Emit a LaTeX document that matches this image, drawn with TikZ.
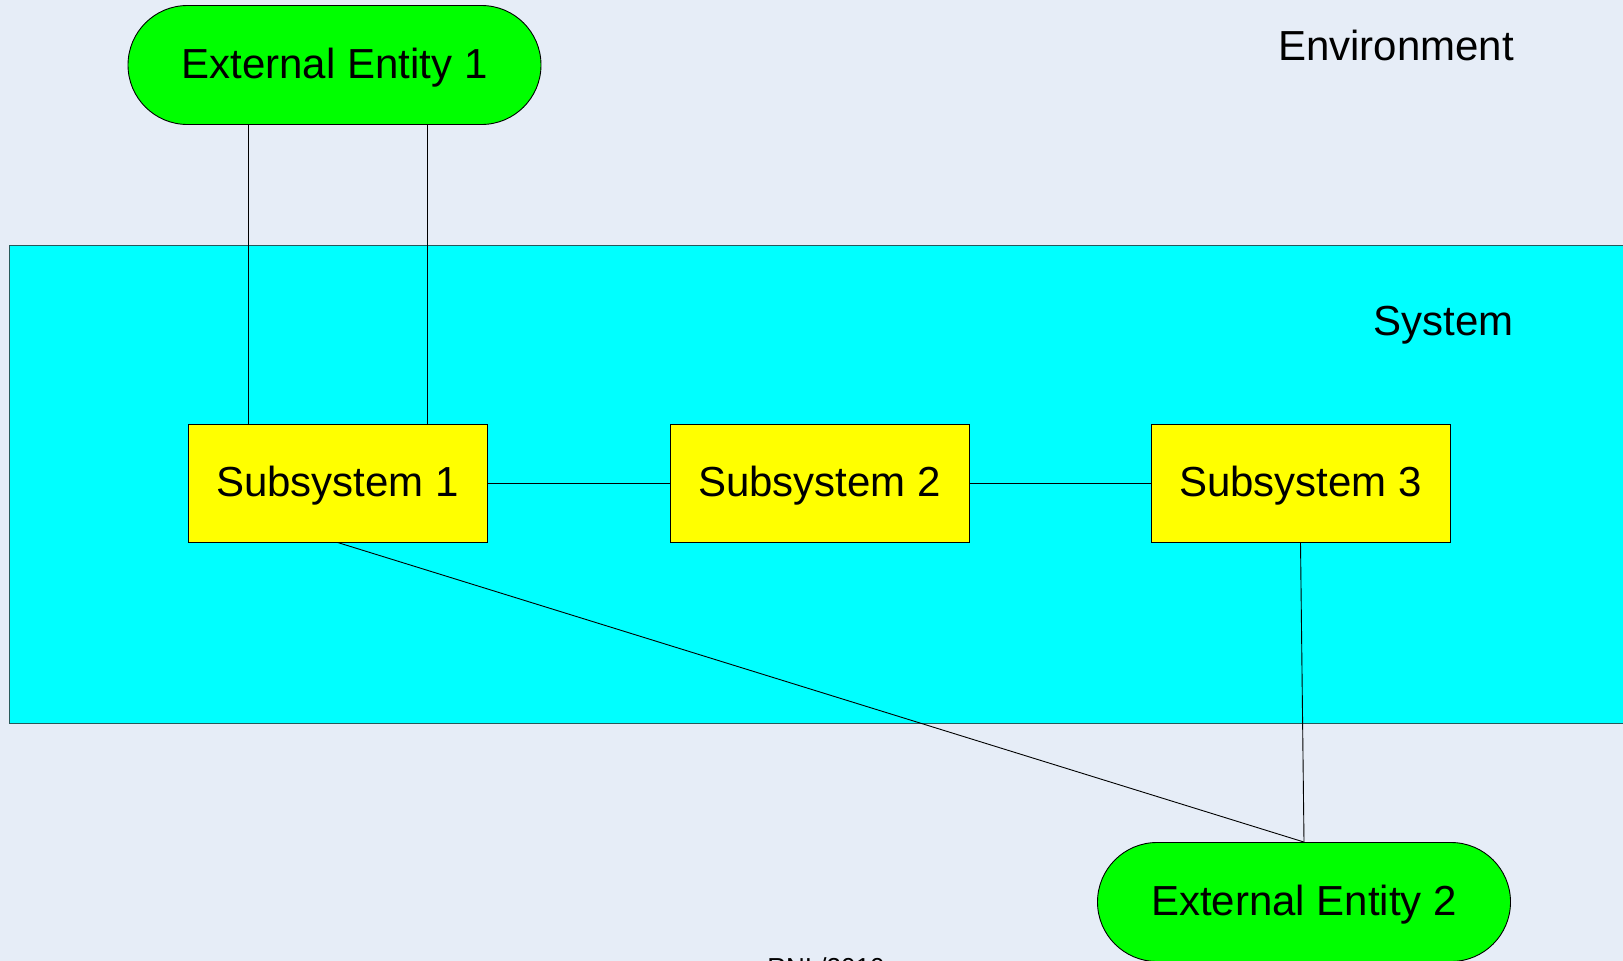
\documentclass[tikz,border=0pt]{standalone}
\usepackage{fontspec}
\setmainfont{Liberation Sans}
\definecolor{bgcol}{RGB}{230,237,247}
\definecolor{syscol}{RGB}{0,255,255}
\definecolor{sysborder}{RGB}{40,90,90}
\definecolor{entcol}{RGB}{0,255,0}
\definecolor{subcol}{RGB}{255,255,0}
\tikzset{
  entity/.style={draw=black, line width=0.9pt, fill=entcol, rounded corners=59.5pt,
    minimum width=413pt, minimum height=119pt, inner sep=0pt,
    text height=36pt, text depth=9pt,
    font=\fontsize{42}{50}\selectfont},
  subbox/.style={draw=black, line width=0.9pt, fill=subcol,
    minimum width=299pt, minimum height=118pt, inner sep=0pt,
    text height=36pt, text depth=9pt,
    font=\fontsize{42}{50}\selectfont},
  sysbox/.style={draw=sysborder, line width=1.2pt, fill=syscol,
    minimum width=1640pt, minimum height=478pt, inner sep=0pt},
  lbl/.style={inner sep=0pt, font=\fontsize{42}{50}\selectfont},
  conn/.style={draw=black, line width=0.9pt}
}
\begin{document}
\begin{tikzpicture}[x=1pt,y=-1pt]
\useasboundingbox (0,0) rectangle (1623,961);
\clip (0,0) rectangle (1623,961);
\fill[bgcol] (0,0) rectangle (1623,961);
\node[sysbox, anchor=north west] (sys) at (8.5,245) {};
\node[lbl, anchor=east] (envlbl) at (1514,45.5) {Environment};
\node[lbl, anchor=east] (syslbl) at (1514,325) {System};
\node[entity] (ee1) at (334.5,65) {External Entity 1};
\node[entity] (ee2) at (1304,902) {External Entity 2};
\node[subbox] (sub1) at (337.5,483) {Subsystem 1};
\node[subbox] (sub2) at (819.5,483) {Subsystem 2};
\node[subbox] (sub3) at (1300.5,483) {Subsystem 3};
\node[inner sep=0pt, anchor=base, font=\fontsize{26}{30}\selectfont] (credit) at (826,976) {RNL/2010};
\draw[conn] ([xshift=-89.5pt]sub1.north) -- ([xshift=-89.5pt]sub1.north |- ee1.south);
\draw[conn] ([xshift=89.5pt]sub1.north) -- ([xshift=89.5pt]sub1.north |- ee1.south);
\draw[conn] (sub1.east) -- (sub2.west);
\draw[conn] (sub2.east) -- (sub3.west);
\draw[conn] (sub1.south) -- (ee2.north);
\draw[conn] (sub3.south) -- (ee2.north);
\end{tikzpicture}
\end{document}
